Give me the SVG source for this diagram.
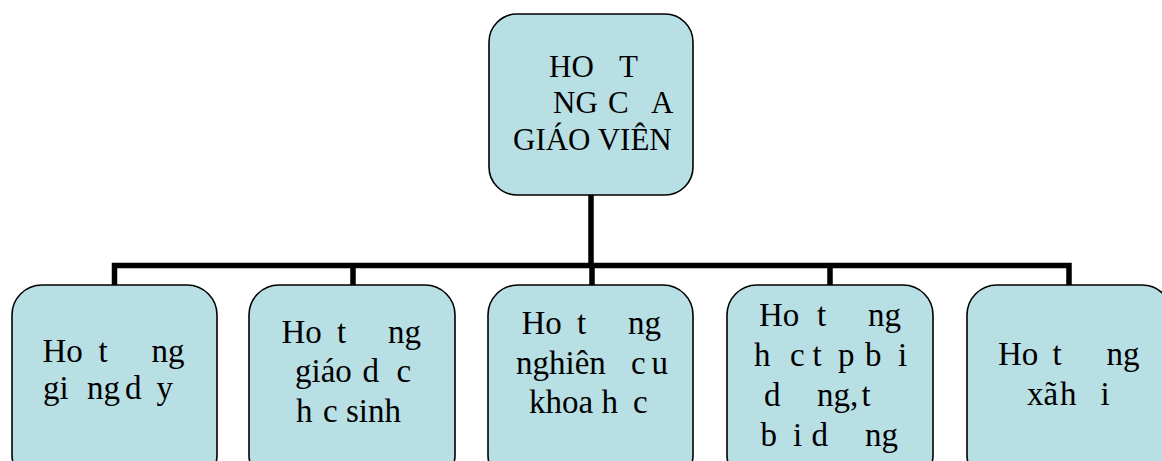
<svg xmlns="http://www.w3.org/2000/svg" width="1162" height="461" viewBox="0 0 1162 461">
<style>
.box{fill:#B8DFE3;stroke:#000;stroke-width:1.6}
.c{fill:none;stroke:#000;stroke-width:5.5;stroke-linejoin:miter;stroke-linecap:butt}
</style>
<rect width="1162" height="461" fill="#fff"/>
<g id="connectors">
<path class="c" d="M591,195 V265.5"/>
<path class="c" d="M114.5,285 V265.5 H1069 V285"/>
<path class="c" d="M353,265.5 V285"/>
<path class="c" d="M592,265.5 V285"/>
<path class="c" d="M830,265.5 V285"/>
</g>
<g id="root">
<rect class="box" x="489" y="14" width="204" height="181" rx="28"/>
<text font-family="'Liberation Serif', serif" font-size="31" fill="#000"><tspan x="549" y="77">HO</tspan><tspan x="619" y="77">T</tspan><tspan x="553" y="113">NG</tspan><tspan x="608" y="113">C</tspan><tspan x="651" y="113">A</tspan><tspan x="513" y="150">GIÁO VIÊN</tspan></text>
</g>
<g id="n1">
<rect class="box" x="12" y="285" width="205" height="200" rx="30"/>
<text font-family="'Liberation Serif', serif" font-size="33" fill="#000"><tspan x="42.5" y="362">Ho</tspan><tspan x="98.5" y="362">t</tspan><tspan x="151.5" y="362">ng</tspan><tspan x="43" y="399">gi</tspan><tspan x="87" y="399">ng</tspan><tspan x="125" y="399">d</tspan><tspan x="156.5" y="399">y</tspan></text>
</g>
<g id="n2">
<rect class="box" x="249" y="285" width="206" height="200" rx="30"/>
<text font-family="'Liberation Serif', serif" font-size="33" fill="#000"><tspan x="281.5" y="343">Ho</tspan><tspan x="337" y="343">t</tspan><tspan x="388" y="343">ng</tspan><tspan x="295" y="382">giáo</tspan><tspan x="362.5" y="382">d</tspan><tspan x="396.5" y="382">c</tspan><tspan x="296" y="422">h</tspan><tspan x="323" y="422">c sinh</tspan></text>
</g>
<g id="n3">
<rect class="box" x="488" y="285" width="205" height="200" rx="30"/>
<text font-family="'Liberation Serif', serif" font-size="33" fill="#000"><tspan x="521.5" y="334">Ho</tspan><tspan x="577" y="334">t</tspan><tspan x="628" y="334">ng</tspan><tspan x="516" y="373.5">nghiên</tspan><tspan x="631" y="373.5">c</tspan><tspan x="651.5" y="373.5">u</tspan><tspan x="529" y="413">khoa</tspan><tspan x="601.5" y="413">h</tspan><tspan x="633" y="413">c</tspan></text>
</g>
<g id="n4">
<rect class="box" x="727" y="285" width="206" height="200" rx="30"/>
<text font-family="'Liberation Serif', serif" font-size="33" fill="#000"><tspan x="759" y="326">Ho</tspan><tspan x="817" y="326">t</tspan><tspan x="868" y="326">ng</tspan><tspan x="754" y="366">h</tspan><tspan x="790" y="366">c</tspan><tspan x="812.5" y="366">t</tspan><tspan x="838" y="366">p</tspan><tspan x="865" y="366">b</tspan><tspan x="898" y="366">i</tspan><tspan x="764" y="406">d</tspan><tspan x="817" y="406">ng,</tspan><tspan x="861.5" y="406">t</tspan><tspan x="760.5" y="446">b</tspan><tspan x="793" y="446">i</tspan><tspan x="811.5" y="446">d</tspan><tspan x="865" y="446">ng</tspan></text>
</g>
<g id="n5">
<rect class="box" x="967" y="285" width="205" height="200" rx="30"/>
<text font-family="'Liberation Serif', serif" font-size="33" fill="#000"><tspan x="998" y="365">Ho</tspan><tspan x="1052.5" y="365">t</tspan><tspan x="1106.5" y="365">ng</tspan><tspan x="1027" y="405">xã</tspan><tspan x="1060" y="405">h</tspan><tspan x="1100.5" y="405">i</tspan></text>
</g>
</svg>
